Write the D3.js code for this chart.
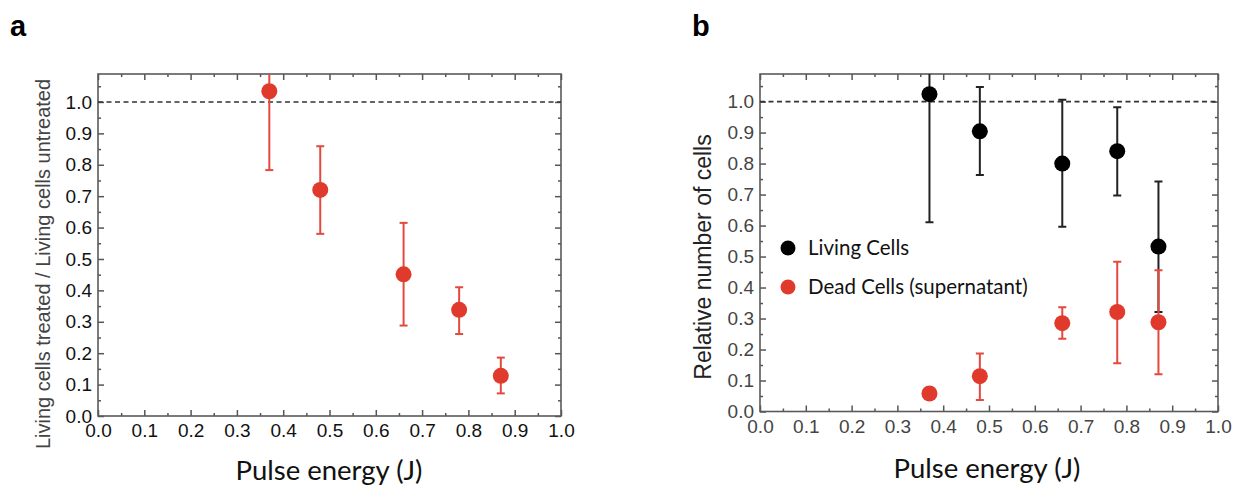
<!DOCTYPE html>
<html>
<head>
<meta charset="utf-8">
<script src="https://cdn.jsdelivr.net/npm/d3@7"></script>
<style>
  body { margin: 0; background: #fff; }
  svg { display: block; }
</style>
</head>
<body>
<svg id="fig" width="1233" height="487"></svg>
<script>
// pulse energy (J) of the five treatments
const energy = [0.37, 0.48, 0.66, 0.78, 0.87];

// panel a: living cells treated / living cells untreated
const ratioA     = [1.034, 0.720, 0.451, 0.338, 0.128];
const ratioALow  = [0.783, 0.580, 0.288, 0.261, 0.072];
const ratioAHigh = [1.290, 0.859, 0.615, 0.410, 0.186];

// panel b: relative number of cells
const living     = [1.024, 0.904, 0.800, 0.840, 0.532];
const livingLow  = [0.611, 0.763, 0.596, 0.697, 0.321];
const livingHigh = [1.440, 1.047, 1.006, 0.982, 0.742];
const dead       = [0.058, 0.114, 0.285, 0.321, 0.288];
const deadLow    = [0.046, 0.037, 0.235, 0.156, 0.120];
const deadHigh   = [0.070, 0.187, 0.336, 0.483, 0.456];

const xMajor = d3.range(0, 11).map(i => i / 10);
const xMinor = d3.range(0, 10).map(i => i / 10 + 0.05);
const yMajor = d3.range(0, 11).map(i => i / 10);
const yMinor = d3.range(0, 11).map(i => i / 10 + 0.05);

const red = "#e03a2c";
const redBar = "#e4493e";

const svg = d3.select("#fig");

function panel(opts) {
  const {left, right, top, bottom, id, labelColor} = opts;
  const x = d3.scaleLinear().domain([0, 1]).range([left, right]);
  const y = d3.scaleLinear().domain([0, 1.089]).range([bottom, top]);
  const g = svg.append("g");

  g.append("clipPath").attr("id", id)
    .append("rect")
      .attr("x", left).attr("y", top)
      .attr("width", right - left).attr("height", bottom - top);

  const fmt = d3.format(".1f");
  // bottom axis with labels
  g.append("g").attr("transform", `translate(0,${bottom})`)
    .call(d3.axisBottom(x).tickValues(xMajor).tickSize(-6).tickPadding(8).tickFormat(fmt));
  g.append("g").attr("transform", `translate(0,${bottom})`)
    .call(d3.axisBottom(x).tickValues(xMinor).tickSize(-3).tickFormat(""));
  // left axis with labels
  g.append("g").attr("transform", `translate(${left},0)`)
    .call(d3.axisLeft(y).tickValues(yMajor).tickSize(-6).tickPadding(6).tickFormat(fmt));
  g.append("g").attr("transform", `translate(${left},0)`)
    .call(d3.axisLeft(y).tickValues(yMinor).tickSize(-3).tickFormat(""));
  // top / right mirrors
  g.append("g").attr("transform", `translate(0,${top})`)
    .call(d3.axisTop(x).tickValues(xMajor).tickSize(-6).tickFormat(""));
  g.append("g").attr("transform", `translate(0,${top})`)
    .call(d3.axisTop(x).tickValues(xMinor).tickSize(-3).tickFormat(""));
  g.append("g").attr("transform", `translate(${right},0)`)
    .call(d3.axisRight(y).tickValues(yMajor).tickSize(-6).tickFormat(""));
  g.append("g").attr("transform", `translate(${right},0)`)
    .call(d3.axisRight(y).tickValues(yMinor).tickSize(-3).tickFormat(""));

  g.selectAll(".domain").remove();
  g.selectAll(".tick line").attr("stroke", "#555").attr("stroke-width", 1.5);
  g.selectAll(".tick text")
    .attr("fill", labelColor)
    .attr("font-family", "Liberation Sans, Arial, sans-serif")
    .attr("font-size", 19);

  g.append("rect")
    .attr("x", left).attr("y", top)
    .attr("width", right - left).attr("height", bottom - top)
    .attr("fill", "none").attr("stroke", "#5a5a5a").attr("stroke-width", 1.6);

  g.append("line")
    .attr("x1", left).attr("x2", right)
    .attr("y1", y(1)).attr("y2", y(1))
    .attr("stroke", "#333").attr("stroke-width", 1.6)
    .attr("stroke-dasharray", "5,3.5");

  const plot = g.append("g").attr("clip-path", `url(#${id})`);
  return {x, y, g, plot};
}

function series(p, vals, lo, hi, fill, barColor) {
  const rows = energy.map((e, i) => ({e, v: vals[i], lo: lo[i], hi: hi[i]}));
  const s = p.plot.append("g");
  s.selectAll("line.bar").data(rows).join("line")
    .attr("x1", d => p.x(d.e)).attr("x2", d => p.x(d.e))
    .attr("y1", d => p.y(d.lo)).attr("y2", d => p.y(d.hi))
    .attr("stroke", barColor).attr("stroke-width", 2);
  s.selectAll("line.lo").data(rows).join("line")
    .attr("x1", d => p.x(d.e) - 4).attr("x2", d => p.x(d.e) + 4)
    .attr("y1", d => p.y(d.lo)).attr("y2", d => p.y(d.lo))
    .attr("stroke", barColor).attr("stroke-width", 2);
  s.selectAll("line.hi").data(rows).join("line")
    .attr("x1", d => p.x(d.e) - 4).attr("x2", d => p.x(d.e) + 4)
    .attr("y1", d => p.y(d.hi)).attr("y2", d => p.y(d.hi))
    .attr("stroke", barColor).attr("stroke-width", 2);
  s.selectAll("circle").data(rows).join("circle")
    .attr("cx", d => p.x(d.e)).attr("cy", d => p.y(d.v))
    .attr("r", 8).attr("fill", fill);
}

// ---- panel a
const pa = panel({left: 98, right: 561, top: 74, bottom: 416, id: "clipA", labelColor: "#111"});
series(pa, ratioA, ratioALow, ratioAHigh, red, redBar);

// ---- panel b
const pb = panel({left: 760, right: 1218, top: 74, bottom: 411.5, id: "clipB", labelColor: "#444"});
series(pb, living, livingLow, livingHigh, "#000", "#222");
series(pb, dead, deadLow, deadHigh, red, redBar);

// panel letters
svg.append("text").attr("x", 10).attr("y", 36)
  .attr("font-family", "Liberation Sans, Arial, sans-serif").attr("font-weight", "bold")
  .attr("font-size", 29).text("a");
svg.append("text").attr("x", 692).attr("y", 36)
  .attr("font-family", "Liberation Sans, Arial, sans-serif").attr("font-weight", "bold")
  .attr("font-size", 29).text("b");

// axis titles
svg.append("text")
  .attr("transform", `translate(50,264) rotate(-90)`)
  .attr("text-anchor", "middle")
  .attr("font-family", "Liberation Sans, Arial, sans-serif").attr("font-size", 20)
  .attr("fill", "#444")
  .text("Living cells treated / Living cells untreated");
svg.append("text")
  .attr("transform", `translate(711,257) rotate(-90)`)
  .attr("text-anchor", "middle")
  .attr("font-family", "Liberation Sans, Arial, sans-serif").attr("font-size", 23)
  .attr("fill", "#222")
  .text("Relative number of cells");

svg.append("text").attr("x", 329).attr("y", 480)
  .attr("text-anchor", "middle")
  .attr("font-family", "Lato, 'Open Sans', sans-serif").attr("font-size", 27.5)
  .attr("fill", "#111").text("Pulse energy (J)");
svg.append("text").attr("x", 987).attr("y", 478)
  .attr("text-anchor", "middle")
  .attr("font-family", "Lato, 'Open Sans', sans-serif").attr("font-size", 27.5)
  .attr("fill", "#111").text("Pulse energy (J)");

// legend
const legendItems = [
  {label: "Living Cells", color: "#000"},
  {label: "Dead Cells (supernatant)", color: red}
];
const leg = svg.append("g").attr("transform", "translate(788,248)");
leg.selectAll("circle").data(legendItems).join("circle")
  .attr("cx", 0).attr("cy", (d, i) => i * 39)
  .attr("r", 7.5).attr("fill", d => d.color);
leg.selectAll("text").data(legendItems).join("text")
  .attr("x", 20).attr("y", (d, i) => i * 39 + 7)
  .attr("font-family", "Lato, 'Open Sans', sans-serif").attr("font-size", 20.5)
  .attr("fill", "#111").text(d => d.label);
</script>
</body>
</html>
